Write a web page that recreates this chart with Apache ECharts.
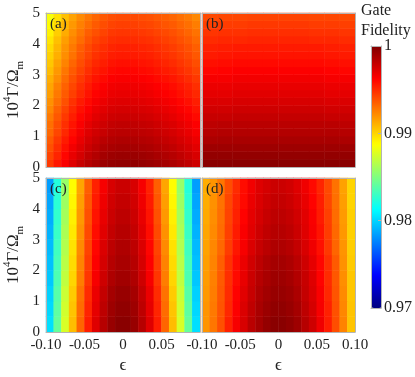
<!DOCTYPE html>
<html>
<head>
<meta charset="utf-8">
<script src="https://cdn.jsdelivr.net/npm/echarts@6/dist/echarts.min.js"></script>
<style>
  html, body { margin: 0; padding: 0; background: #fff; }
  #chart { width: 415px; height: 377px; }
</style>
</head>
<body>
<div id="chart"></div>
<script>
// cell centres (cells cover eps -0.10..0.10, 10^4 Gamma/Omega_m 0..5)
const epsFine = [-0.095, -0.085, -0.075, -0.065, -0.055, -0.045, -0.035, -0.025, -0.015, -0.005,
  0.005, 0.015, 0.025, 0.035, 0.045, 0.055, 0.065, 0.075, 0.085, 0.095]
const epsCoarse = [-0.09, -0.07, -0.05, -0.03, -0.01, 0.01, 0.03, 0.05, 0.07, 0.09]
const gammaFine = [0.125, 0.375, 0.625, 0.875, 1.125, 1.375, 1.625, 1.875, 2.125, 2.375,
  2.625, 2.875, 3.125, 3.375, 3.625, 3.875, 4.125, 4.375, 4.625, 4.875]
const gammaCoarse = [0.25, 0.75, 1.25, 1.75, 2.25, 2.75, 3.25, 3.75, 4.25, 4.75]

// gate fidelity, one row per gamma (bottom to top), one value per eps column
const fidelityA = [
  [0.9946,0.9956,0.9964,0.9972,0.9979,0.9984,0.9988,0.9992,0.9994,0.9995,0.9995,0.9995,0.9994,0.9993,0.9991,0.9989,0.9987,0.9984,0.9981,0.9977],
  [0.9943,0.9952,0.9961,0.9969,0.9975,0.9981,0.9985,0.9989,0.9991,0.9992,0.9992,0.9992,0.9991,0.9990,0.9988,0.9986,0.9984,0.9981,0.9978,0.9974],
  [0.9939,0.9949,0.9958,0.9966,0.9972,0.9978,0.9982,0.9986,0.9988,0.9989,0.9989,0.9989,0.9988,0.9987,0.9985,0.9983,0.9981,0.9978,0.9975,0.9971],
  [0.9936,0.9946,0.9955,0.9962,0.9969,0.9975,0.9979,0.9983,0.9985,0.9986,0.9986,0.9986,0.9985,0.9984,0.9982,0.9980,0.9978,0.9975,0.9972,0.9968],
  [0.9932,0.9942,0.9951,0.9959,0.9966,0.9972,0.9976,0.9979,0.9982,0.9983,0.9983,0.9983,0.9982,0.9981,0.9979,0.9977,0.9975,0.9972,0.9969,0.9965],
  [0.9930,0.9940,0.9949,0.9957,0.9964,0.9970,0.9974,0.9977,0.9980,0.9981,0.9981,0.9981,0.9980,0.9979,0.9977,0.9975,0.9973,0.9970,0.9967,0.9963],
  [0.9927,0.9937,0.9946,0.9954,0.9961,0.9966,0.9971,0.9974,0.9977,0.9978,0.9978,0.9978,0.9977,0.9976,0.9974,0.9972,0.9970,0.9967,0.9964,0.9960],
  [0.9923,0.9934,0.9943,0.9951,0.9958,0.9963,0.9968,0.9971,0.9974,0.9975,0.9975,0.9975,0.9974,0.9973,0.9971,0.9969,0.9967,0.9964,0.9961,0.9957],
  [0.9920,0.9930,0.9939,0.9948,0.9955,0.9960,0.9965,0.9968,0.9971,0.9972,0.9972,0.9972,0.9971,0.9970,0.9968,0.9966,0.9964,0.9961,0.9958,0.9954],
  [0.9916,0.9927,0.9936,0.9944,0.9951,0.9957,0.9962,0.9965,0.9968,0.9969,0.9969,0.9969,0.9968,0.9967,0.9965,0.9963,0.9961,0.9958,0.9955,0.9951],
  [0.9914,0.9925,0.9934,0.9942,0.9949,0.9955,0.9960,0.9963,0.9966,0.9967,0.9967,0.9967,0.9966,0.9965,0.9963,0.9961,0.9959,0.9956,0.9953,0.9949],
  [0.9911,0.9921,0.9931,0.9939,0.9946,0.9952,0.9957,0.9960,0.9963,0.9964,0.9964,0.9964,0.9963,0.9962,0.9960,0.9958,0.9956,0.9953,0.9950,0.9946],
  [0.9907,0.9918,0.9928,0.9936,0.9943,0.9949,0.9954,0.9957,0.9960,0.9961,0.9961,0.9961,0.9960,0.9959,0.9957,0.9955,0.9953,0.9950,0.9947,0.9943],
  [0.9904,0.9915,0.9924,0.9933,0.9940,0.9946,0.9951,0.9954,0.9957,0.9958,0.9958,0.9958,0.9957,0.9956,0.9954,0.9952,0.9950,0.9947,0.9944,0.9940],
  [0.9901,0.9911,0.9921,0.9929,0.9937,0.9943,0.9948,0.9951,0.9954,0.9955,0.9955,0.9955,0.9954,0.9953,0.9951,0.9949,0.9947,0.9944,0.9941,0.9937],
  [0.9898,0.9909,0.9919,0.9927,0.9935,0.9941,0.9946,0.9949,0.9952,0.9953,0.9953,0.9953,0.9952,0.9951,0.9949,0.9947,0.9945,0.9942,0.9939,0.9935],
  [0.9895,0.9906,0.9916,0.9924,0.9931,0.9938,0.9943,0.9946,0.9949,0.9950,0.9950,0.9950,0.9949,0.9948,0.9946,0.9944,0.9942,0.9939,0.9936,0.9932],
  [0.9891,0.9902,0.9912,0.9921,0.9928,0.9935,0.9939,0.9943,0.9946,0.9947,0.9947,0.9947,0.9946,0.9945,0.9943,0.9941,0.9939,0.9936,0.9933,0.9929],
  [0.9888,0.9899,0.9909,0.9918,0.9925,0.9931,0.9936,0.9940,0.9943,0.9944,0.9944,0.9944,0.9943,0.9942,0.9940,0.9938,0.9936,0.9933,0.9930,0.9926],
  [0.9885,0.9896,0.9906,0.9915,0.9922,0.9928,0.9933,0.9937,0.9940,0.9941,0.9941,0.9941,0.9940,0.9939,0.9937,0.9935,0.9933,0.9930,0.9927,0.9923]
]

const fidelityB = [
  [0.9997,0.9997,0.9997,0.9997,0.9997,0.9997,0.9997,0.9997,0.9997,0.9997],
  [0.9994,0.9994,0.9994,0.9994,0.9994,0.9994,0.9994,0.9994,0.9994,0.9994],
  [0.9991,0.9991,0.9991,0.9991,0.9991,0.9991,0.9991,0.9991,0.9991,0.9991],
  [0.9987,0.9988,0.9988,0.9988,0.9988,0.9988,0.9988,0.9988,0.9988,0.9987],
  [0.9984,0.9985,0.9985,0.9985,0.9985,0.9985,0.9985,0.9985,0.9985,0.9984],
  [0.9982,0.9983,0.9983,0.9983,0.9983,0.9983,0.9983,0.9983,0.9983,0.9982],
  [0.9979,0.9979,0.9980,0.9980,0.9980,0.9980,0.9980,0.9980,0.9979,0.9979],
  [0.9976,0.9976,0.9977,0.9977,0.9977,0.9977,0.9977,0.9977,0.9976,0.9976],
  [0.9973,0.9973,0.9974,0.9974,0.9974,0.9974,0.9974,0.9974,0.9973,0.9973],
  [0.9970,0.9970,0.9971,0.9971,0.9971,0.9971,0.9971,0.9971,0.9970,0.9970],
  [0.9968,0.9968,0.9969,0.9969,0.9969,0.9969,0.9969,0.9969,0.9968,0.9968],
  [0.9965,0.9965,0.9966,0.9966,0.9966,0.9966,0.9966,0.9966,0.9965,0.9965],
  [0.9961,0.9962,0.9963,0.9963,0.9963,0.9963,0.9963,0.9963,0.9962,0.9961],
  [0.9958,0.9959,0.9960,0.9960,0.9960,0.9960,0.9960,0.9960,0.9959,0.9958],
  [0.9955,0.9956,0.9957,0.9957,0.9957,0.9957,0.9957,0.9957,0.9956,0.9955],
  [0.9953,0.9954,0.9955,0.9955,0.9955,0.9955,0.9955,0.9955,0.9954,0.9953],
  [0.9950,0.9951,0.9951,0.9952,0.9952,0.9952,0.9952,0.9951,0.9951,0.9950],
  [0.9947,0.9948,0.9948,0.9949,0.9949,0.9949,0.9949,0.9948,0.9948,0.9947],
  [0.9944,0.9945,0.9945,0.9946,0.9946,0.9946,0.9946,0.9945,0.9945,0.9944],
  [0.9941,0.9942,0.9942,0.9943,0.9943,0.9943,0.9943,0.9942,0.9942,0.9941]
]

const fidelityC = [
  [0.9803,0.9842,0.9876,0.9907,0.9933,0.9954,0.9972,0.9984,0.9993,0.9997,0.9997,0.9993,0.9984,0.9972,0.9954,0.9933,0.9907,0.9876,0.9842,0.9803],
  [0.9801,0.9840,0.9874,0.9905,0.9931,0.9952,0.9970,0.9982,0.9991,0.9995,0.9995,0.9991,0.9982,0.9970,0.9952,0.9931,0.9905,0.9874,0.9840,0.9801],
  [0.9799,0.9838,0.9872,0.9903,0.9929,0.9950,0.9968,0.9980,0.9989,0.9993,0.9993,0.9989,0.9980,0.9968,0.9950,0.9929,0.9903,0.9872,0.9838,0.9799],
  [0.9796,0.9835,0.9869,0.9900,0.9926,0.9947,0.9965,0.9977,0.9986,0.9990,0.9990,0.9986,0.9977,0.9965,0.9947,0.9926,0.9900,0.9869,0.9835,0.9796],
  [0.9794,0.9833,0.9867,0.9898,0.9924,0.9945,0.9963,0.9975,0.9984,0.9988,0.9988,0.9984,0.9975,0.9963,0.9945,0.9924,0.9898,0.9867,0.9833,0.9794],
  [0.9792,0.9831,0.9865,0.9896,0.9922,0.9943,0.9961,0.9973,0.9982,0.9986,0.9986,0.9982,0.9973,0.9961,0.9943,0.9922,0.9896,0.9865,0.9831,0.9792],
  [0.9790,0.9829,0.9863,0.9894,0.9920,0.9941,0.9959,0.9971,0.9980,0.9984,0.9984,0.9980,0.9971,0.9959,0.9941,0.9920,0.9894,0.9863,0.9829,0.9790],
  [0.9788,0.9827,0.9861,0.9892,0.9918,0.9939,0.9957,0.9969,0.9978,0.9982,0.9982,0.9978,0.9969,0.9957,0.9939,0.9918,0.9892,0.9861,0.9827,0.9788],
  [0.9786,0.9825,0.9859,0.9890,0.9916,0.9937,0.9955,0.9967,0.9976,0.9980,0.9980,0.9976,0.9967,0.9955,0.9937,0.9916,0.9890,0.9859,0.9825,0.9786],
  [0.9784,0.9823,0.9857,0.9888,0.9914,0.9935,0.9953,0.9965,0.9974,0.9978,0.9978,0.9974,0.9965,0.9953,0.9935,0.9914,0.9888,0.9857,0.9823,0.9784]
]

const fidelityD = [
  [0.9919,0.9928,0.9939,0.9953,0.9965,0.9974,0.9983,0.9989,0.9994,0.9997,0.9997,0.9995,0.9991,0.9984,0.9977,0.9967,0.9954,0.9940,0.9924,0.9905],
  [0.9919,0.9927,0.9938,0.9951,0.9963,0.9973,0.9981,0.9988,0.9992,0.9995,0.9995,0.9993,0.9989,0.9982,0.9975,0.9965,0.9953,0.9939,0.9923,0.9905],
  [0.9918,0.9926,0.9937,0.9950,0.9962,0.9971,0.9979,0.9986,0.9990,0.9993,0.9993,0.9991,0.9987,0.9980,0.9973,0.9964,0.9951,0.9938,0.9922,0.9904],
  [0.9917,0.9925,0.9936,0.9949,0.9960,0.9969,0.9978,0.9984,0.9988,0.9991,0.9991,0.9989,0.9985,0.9979,0.9972,0.9962,0.9950,0.9937,0.9921,0.9904],
  [0.9916,0.9924,0.9935,0.9948,0.9959,0.9968,0.9976,0.9982,0.9986,0.9989,0.9989,0.9987,0.9983,0.9977,0.9970,0.9961,0.9949,0.9936,0.9920,0.9903],
  [0.9915,0.9923,0.9932,0.9945,0.9956,0.9965,0.9973,0.9979,0.9983,0.9986,0.9986,0.9984,0.9980,0.9974,0.9967,0.9958,0.9946,0.9933,0.9919,0.9902],
  [0.9914,0.9922,0.9931,0.9944,0.9955,0.9964,0.9971,0.9977,0.9981,0.9984,0.9984,0.9982,0.9978,0.9972,0.9965,0.9957,0.9945,0.9932,0.9918,0.9901],
  [0.9913,0.9921,0.9930,0.9943,0.9953,0.9962,0.9970,0.9975,0.9979,0.9982,0.9982,0.9980,0.9976,0.9971,0.9964,0.9955,0.9944,0.9931,0.9917,0.9901],
  [0.9912,0.9920,0.9929,0.9942,0.9952,0.9960,0.9968,0.9973,0.9977,0.9980,0.9980,0.9978,0.9974,0.9969,0.9962,0.9954,0.9942,0.9930,0.9916,0.9900],
  [0.9912,0.9919,0.9928,0.9940,0.9950,0.9959,0.9966,0.9972,0.9975,0.9978,0.9978,0.9976,0.9972,0.9967,0.9960,0.9952,0.9941,0.9929,0.9915,0.9900]
]

const panelLabels = ['(a)', '(b)', '(c)', '(d)']
const fidelityTicks = [0.97, 0.98, 0.99, 1]

const jet = ['#000080', '#0000ff', '#0080ff', '#00ffff', '#80ff80', '#ffff00', '#ff8000', '#ff0000', '#800000']
const FONT = '"Liberation Serif", "Times New Roman", serif'
const TEXT = '#222'
const FRAME = '#b4b4b4'

const panels = [
  { grid: { left: 46, top: 13, width: 154, height: 154 }, eps: epsFine, gamma: gammaFine, rows: fidelityA, bottom: false, left: true },
  { grid: { left: 202, top: 13, width: 153, height: 154 }, eps: epsCoarse, gamma: gammaFine, rows: fidelityB, bottom: false, left: false },
  { grid: { left: 46, top: 178, width: 154, height: 154 }, eps: epsFine, gamma: gammaCoarse, rows: fidelityC, bottom: true, left: true, hideMax: true },
  { grid: { left: 202, top: 178, width: 153, height: 154 }, eps: epsFine, gamma: gammaCoarse, rows: fidelityD, bottom: true, left: false }
]

const toCells = rows => rows.flatMap((row, yi) => row.map((v, xi) => [xi, yi, v]))
const frameLine = { show: true, onZero: false, lineStyle: { color: FRAME, width: 1 } }
const epsLabel = v => (Math.abs(v) < 1e-9 ? '0' : v.toFixed(2))

const grid = [], xAxis = [], yAxis = [], series = [], graphic = []

panels.forEach((p, i) => {
  grid.push(p.grid)
  // category axes carry the heatmap cells, drawn as the top / right frame
  xAxis.push({ type: 'category', gridIndex: i, position: 'top', data: p.eps, z: 5,
    axisLine: frameLine, axisTick: { show: false }, axisLabel: { show: false }, splitLine: { show: false } })
  xAxis.push({
    type: 'value', gridIndex: i, position: 'bottom', min: -0.1, max: 0.1, interval: 0.05, z: 5,
    axisLine: frameLine, axisTick: { show: false }, splitLine: { show: false },
    axisLabel: { show: p.bottom, showMaxLabel: !p.hideMax, formatter: epsLabel, margin: 6,
      fontFamily: FONT, fontSize: 15, color: TEXT },
    name: p.bottom ? 'ϵ' : '', nameLocation: 'middle', nameGap: 25,
    nameTextStyle: { fontFamily: FONT, fontSize: 17, color: TEXT }
  })
  yAxis.push({ type: 'category', gridIndex: i, position: 'right', data: p.gamma, z: 5,
    axisLine: frameLine, axisTick: { show: false }, axisLabel: { show: false }, splitLine: { show: false } })
  yAxis.push({
    type: 'value', gridIndex: i, position: 'left', min: 0, max: 5, interval: 1, z: 5,
    axisLine: frameLine, axisTick: { show: false }, splitLine: { show: false },
    axisLabel: { show: p.left, margin: 6, fontFamily: FONT, fontSize: 15, color: TEXT },
    name: p.left ? '{n|10}{s|4}{n|Γ/Ω}{b|m}' : '', nameLocation: 'middle', nameGap: 20,
    nameTextStyle: {
      rich: {
        n: { fontFamily: FONT, fontSize: 17, color: TEXT, lineHeight: 24, verticalAlign: 'middle' },
        s: { fontFamily: FONT, fontSize: 11, color: TEXT, lineHeight: 11, verticalAlign: 'top' },
        b: { fontFamily: FONT, fontSize: 11, color: TEXT, lineHeight: 11, verticalAlign: 'bottom' }
      }
    }
  })
  series.push({
    type: 'heatmap', xAxisIndex: 2 * i, yAxisIndex: 2 * i,
    data: toCells(p.rows), itemStyle: { borderWidth: 0 }, emphasis: { disabled: true }
  })
  graphic.push({
    type: 'text', left: p.grid.left + 4, top: p.grid.top + 4, z: 100,
    style: { text: panelLabels[i], font: '15px ' + FONT, fill: TEXT }
  })
})

// colour bar frame and ticks
grid.push({ left: 371, top: 46, width: 11, height: 262 })
xAxis.push({ type: 'value', gridIndex: 4, position: 'bottom', min: 0, max: 1, z: 5,
  axisLine: frameLine, axisTick: { show: false }, axisLabel: { show: false }, splitLine: { show: false } })
xAxis.push({ type: 'value', gridIndex: 4, position: 'top', min: 0, max: 1, z: 5,
  axisLine: frameLine, axisTick: { show: false }, axisLabel: { show: false }, splitLine: { show: false } })
yAxis.push({ type: 'value', gridIndex: 4, position: 'right', min: 0.97, max: 1, interval: 0.01, z: 5,
  axisLine: frameLine, splitLine: { show: false },
  axisTick: { show: true, inside: true, length: 3, lineStyle: { color: FRAME } },
  axisLabel: { margin: 3, fontFamily: FONT, fontSize: 16, color: TEXT,
    formatter: v => (v >= 0.9999 ? '1' : v.toFixed(2)) } })
yAxis.push({ type: 'value', gridIndex: 4, position: 'left', min: 0.97, max: 1, z: 5,
  axisLine: frameLine, axisTick: { show: false }, axisLabel: { show: false }, splitLine: { show: false } })

graphic.push({
  type: 'text', left: 361, top: 1, z: 100,
  style: { text: 'Gate\nFidelity', font: '16px ' + FONT, fill: TEXT, lineHeight: 20 }
})

const chart = echarts.init(document.getElementById('chart'))
chart.setOption({
  animation: false,
  grid,
  xAxis,
  yAxis,
  visualMap: {
    type: 'continuous', seriesIndex: [0, 1, 2, 3],
    min: fidelityTicks[0], max: fidelityTicks[fidelityTicks.length - 1],
    left: 371, top: 46, itemWidth: 11, itemHeight: 262, padding: 0,
    calculable: false, hoverLink: false, text: null,
    inRange: { color: jet }
  },
  series,
  graphic
})
</script>
</body>
</html>
